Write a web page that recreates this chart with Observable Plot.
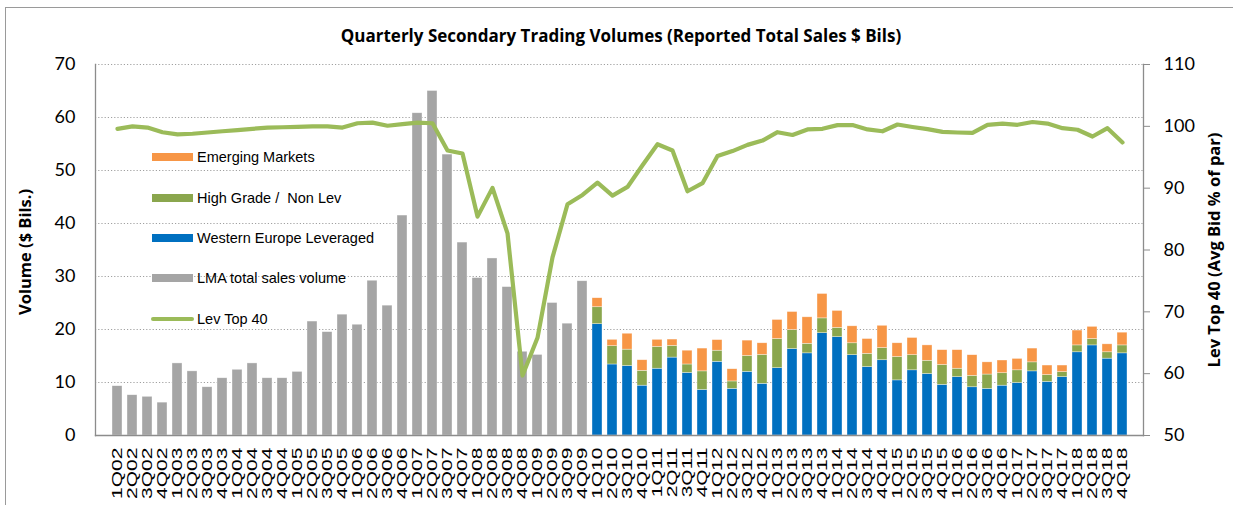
<!DOCTYPE html>
<html>
<head>
<meta charset="utf-8">
<script src="https://cdn.jsdelivr.net/npm/d3@7"></script>
<script src="https://cdn.jsdelivr.net/npm/@observablehq/plot@0.6"></script>
<style>
  html, body { margin: 0; padding: 0; background: #fff; overflow: hidden; }
  #wrap { position: relative; width: 1233px; height: 505px; }
  #border { position: absolute; left: 5px; top: 7px; width: 1300px; height: 600px; border-left: 1.5px solid #9a9a9a; border-top: 1.5px solid #9a9a9a; pointer-events: none; }
  #title { position: absolute; left: 0; width: 1242px; top: 24px; text-align: center; font: bold 17px "Open Sans", Lato, sans-serif; color: #000; }
  .ytitle { position: absolute; font: bold 16.5px "Open Sans", Lato, sans-serif; color: #000; white-space: nowrap; transform: translate(-50%, -50%) rotate(-90deg); }
  .leg { position: absolute; left: 0; top: 0; }
  .sw { position: absolute; left: 152px; width: 41px; height: 8px; }
  .lt { position: absolute; left: 197px; font: 14.5px "Liberation Sans", Arial, sans-serif; color: #000; white-space: pre; transform: translateY(-50%); }
  #chart { position: absolute; left: 0; top: 0; }
</style>
</head>
<body>
<div id="wrap">
  <div id="chart"></div>
  <div id="border"></div>
  <div id="title">Quarterly Secondary Trading Volumes (Reported Total Sales $ Bils)</div>
  <div class="ytitle" style="left:24px; top:252px;">Volume ($ Bils.)</div>
  <div class="ytitle" style="left:1213px; top:250px;">Lev Top 40 (Avg Bid % of par)</div>
  <div id="legend" class="leg"></div>
</div>
<script>
const quarters = [
  "1Q02","2Q02","3Q02","4Q02","1Q03","2Q03","3Q03","4Q03","1Q04","2Q04","3Q04","4Q04",
  "1Q05","2Q05","3Q05","4Q05","1Q06","2Q06","3Q06","4Q06","1Q07","2Q07","3Q07","4Q07",
  "1Q08","2Q08","3Q08","4Q08","1Q09","2Q09","3Q09","4Q09","1Q10","2Q10","3Q10","4Q10",
  "1Q11","2Q11","3Q11","4Q11","1Q12","2Q12","3Q12","4Q12","1Q13","2Q13","3Q13","4Q13",
  "1Q14","2Q14","3Q14","4Q14","1Q15","2Q15","3Q15","4Q15","1Q16","2Q16","3Q16","4Q16",
  "1Q17","2Q17","3Q17","4Q17","1Q18","2Q18","3Q18","4Q18"
];
// LMA total sales volume, 1Q02 - 4Q09
const lmaTotal = [
  9.3, 7.6, 7.3, 6.2, 13.6, 12.1, 9.1, 10.8, 12.4, 13.6, 10.8, 10.8,
  12.0, 21.5, 19.5, 22.8, 20.9, 29.2, 24.5, 41.5, 60.8, 65.0, 53.0, 36.4,
  29.7, 33.4, 28.0, 15.8, 15.2, 25.0, 21.1, 29.1
];
// 1Q10 - 4Q18
const westernEuropeLev = [
  21.0, 13.4, 13.1, 9.4, 12.6, 14.7, 11.8, 8.6, 13.9, 8.8, 12.0, 9.75,
  12.7, 16.3, 15.5, 19.3, 18.55, 15.15, 12.9, 14.2, 10.4, 12.3, 11.6, 9.55,
  11.0, 9.1, 8.8, 9.4, 9.9, 12.1, 10.1, 11.0, 15.7, 17.0, 14.5, 15.5
];
const highGradeNonLev = [
  3.2, 3.45, 3.1, 2.8, 4.1, 2.2, 1.6, 3.5, 2.1, 1.4, 3.0, 5.45,
  5.5, 3.6, 1.8, 2.8, 1.75, 2.25, 2.5, 2.3, 4.4, 2.85, 2.5, 3.75,
  1.6, 2.15, 2.7, 2.35, 2.4, 1.7, 1.3, 0.95, 1.3, 1.2, 1.2, 1.5
];
const emergingMarkets = [
  1.7, 1.2, 3.0, 2.0, 1.35, 1.2, 2.6, 4.3, 2.0, 2.3, 2.9, 2.2,
  3.6, 3.4, 5.0, 4.6, 3.2, 3.2, 2.8, 4.2, 2.6, 3.25, 2.9, 2.8,
  3.5, 3.9, 2.3, 2.4, 2.15, 2.6, 1.8, 1.25, 2.8, 2.3, 1.5, 2.4
];
// Lev Top 40 (Avg Bid % of par), 1Q02 - 4Q18
const levTop40 = [
  99.6, 100.0, 99.8, 99.05, 98.7, 98.8, 99.0, 99.2, 99.4, 99.6, 99.8, 99.85,
  99.9, 100.0, 100.0, 99.8, 100.5, 100.6, 100.1, 100.35, 100.6, 100.5, 96.1, 95.6,
  85.4, 90.05, 82.7, 59.7, 65.8, 78.8, 87.4, 88.9, 90.9, 88.8, 90.2, 93.7,
  97.1, 96.1, 89.5, 90.8, 95.2, 96.0, 97.0, 97.7, 99.05, 98.6, 99.5, 99.6,
  100.2, 100.2, 99.5, 99.2, 100.3, 99.9, 99.55, 99.1, 99.0, 98.95, 100.25, 100.45,
  100.25, 100.7, 100.45, 99.7, 99.45, 98.35, 99.7, 97.4
];
const seriesNames = ["LMA total sales volume", "Western Europe Leveraged", "High Grade /  Non Lev", "Emerging Markets"];
const seriesColors = ["#A5A5A5", "#0070C0", "#8AA64D", "#F79646"];
const lineColor = "#9BBB59";
const leftTicks = [0, 10, 20, 30, 40, 50, 60, 70];
const rightTicks = [50, 60, 70, 80, 90, 100, 110];

// map right-axis values (50..110) onto the left scale (0..70)
const toLeft = v => (v - 50) * 70 / 60;
const fromLeft = t => 50 + t * 60 / 70;

const rows = [];
lmaTotal.forEach((v, i) => rows.push({q: quarters[i], s: seriesNames[0], v}));
const off = lmaTotal.length;
westernEuropeLev.forEach((v, i) => rows.push({q: quarters[off + i], s: seriesNames[1], v}));
highGradeNonLev.forEach((v, i) => rows.push({q: quarters[off + i], s: seriesNames[2], v}));
emergingMarkets.forEach((v, i) => rows.push({q: quarters[off + i], s: seriesNames[3], v}));
const lineRows = levTop40.map((v, i) => ({q: quarters[i], v}));

const plot = Plot.plot({
  width: 1233,
  height: 505,
  marginTop: 64,
  marginBottom: 70,
  marginLeft: 95,
  marginRight: 90,
  style: {fontFamily: "Lato, 'Open Sans', sans-serif", background: "transparent"},
  x: {domain: quarters, padding: 0.35, label: null},
  y: {domain: [0, 70], label: null},
  color: {domain: seriesNames, range: seriesColors},
  marks: [
    Plot.gridY(leftTicks.slice(1), {stroke: "#a0a0a0", strokeOpacity: 1, strokeDasharray: "1.2,2", strokeWidth: 1}),
    Plot.barY(rows, {x: "q", y: "v", fill: "s", order: seriesNames, stroke: "#fff", strokeWidth: 0.6, strokeOpacity: 0.6}),
    Plot.line(lineRows, {x: "q", y: d => toLeft(d.v), stroke: lineColor, strokeWidth: 4.2, strokeLinejoin: "round", strokeLinecap: "round"}),
    Plot.frame({anchor: "left", stroke: "#8c8c8c", strokeWidth: 1.3}),
    Plot.frame({anchor: "right", stroke: "#8c8c8c", strokeWidth: 1.3}),
    Plot.frame({anchor: "bottom", stroke: "#8c8c8c", strokeWidth: 1.3}),
    Plot.axisY({ticks: leftTicks, tickSize: 0, tickPadding: 20, fontSize: 18, label: null}),
    Plot.axisY({anchor: "right", ticks: rightTicks.map(toLeft), tickFormat: t => String(Math.round(fromLeft(t))), tickSize: 6, tickPadding: 14, fontSize: 18, stroke: "#8c8c8c", label: null}),
    Plot.axisX({tickRotate: -90, tickSize: 0, tickPadding: 12, fontSize: 14.5, fontFamily: "'Liberation Sans', Arial, sans-serif", label: null})
  ]
});
document.getElementById("chart").appendChild(plot);

// stretch x tick labels along reading direction (as in the reference)
d3.select(plot).selectAll('g[aria-label="x-axis tick label"] text').each(function() {
  const t = this.getAttribute("transform");
  if (t) this.setAttribute("transform", t + " scale(1.45,1)");
});

// legend
const legendItems = [
  {name: seriesNames[3], color: seriesColors[3], y: 157, type: "bar"},
  {name: seriesNames[2], color: seriesColors[2], y: 197.5, type: "bar"},
  {name: seriesNames[1], color: seriesColors[1], y: 238, type: "bar"},
  {name: seriesNames[0], color: seriesColors[0], y: 278, type: "bar"},
  {name: "Lev Top 40", color: lineColor, y: 318.5, type: "line"}
];
const leg = document.getElementById("legend");
legendItems.forEach(it => {
  const sw = document.createElement("div");
  sw.className = "sw";
  sw.style.background = it.color;
  if (it.type === "line") {
    sw.style.height = "4px"; sw.style.top = (it.y - 2) + "px"; sw.style.borderRadius = "2px"; sw.style.width = "43px"; sw.style.left = "151px";
  } else {
    sw.style.top = (it.y - 4) + "px";
  }
  leg.appendChild(sw);
  const lt = document.createElement("div");
  lt.className = "lt";
  lt.style.top = it.y + "px";
  lt.textContent = it.name;
  leg.appendChild(lt);
});
</script>
</body>
</html>
